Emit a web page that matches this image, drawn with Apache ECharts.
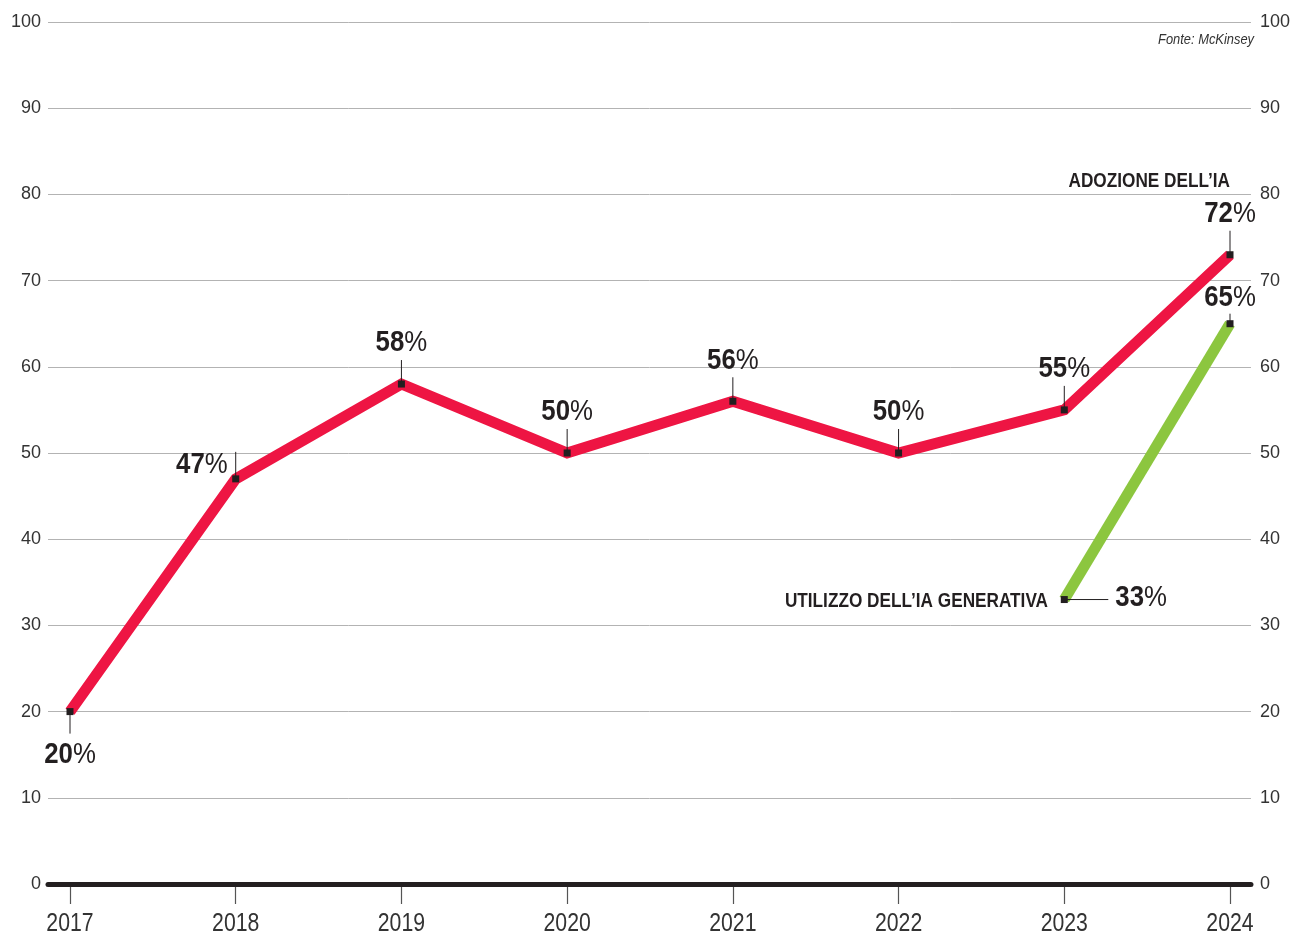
<!DOCTYPE html>
<html><head><meta charset="utf-8">
<script src="https://cdn.jsdelivr.net/npm/echarts@6/dist/echarts.min.js"></script>
<style>html,body{margin:0;padding:0;background:#fff}#c{width:1293px;height:939px}</style>
</head><body><div id="c"></div>
<script>
const years = ['2017','2018','2019','2020','2021','2022','2023','2024'];
const adoption = [20, 47, 58, 50, 56, 50, 55, 73];
const adoptionLabels = ['20','47','58','50','56','50','55','72'];
const adoptionLabelPos = ['down','upleft','up','up','up','up','up','up'];
const genAI = [null, null, null, null, null, null, 33, 65];
const genAILabels = [null, null, null, null, null, null, '33', '65'];
const genAILabelPos = [null, null, null, null, null, null, 'right', 'upshort'];
const yMin = 0, yMax = 100, yStep = 10;

const RED = '#ee1543', GREEN = '#8cc63f', INK = '#231f20';
const SANS = '"Liberation Sans", Arial, Helvetica, sans-serif';
const SQ = 0.86; // horizontal squeeze to imitate a condensed face

const labelItems = [];
adoption.forEach((v,i)=>labelItems.push({value:[i,v], text:adoptionLabels[i], pos:adoptionLabelPos[i]}));
genAI.forEach((v,i)=>{ if(v!=null) labelItems.push({value:[i,v], text:genAILabels[i], pos:genAILabelPos[i]}); });

const chart = echarts.init(document.getElementById('c'));
const richStyle = {
  n:{fontFamily:SANS, fontWeight:'bold', fontSize:30, fill:INK, color:INK},
  p:{fontFamily:SANS, fontWeight:'normal', fontSize:30, fill:INK, color:INK}
};
chart.setOption({
  animation:false,
  grid:[
    {left:48, right:40, top:22, bottom:55},
    {left:70, right:63, top:22, bottom:55}
  ],
  xAxis:[
    {gridIndex:0, type:'value', min:0, max:1, axisLine:{show:true, lineStyle:{color:INK, width:5}}, axisTick:{show:false}, axisLabel:{show:false}, splitLine:{show:false}, z:5},
    {gridIndex:1, type:'category', data:years, boundaryGap:false, axisLine:{show:false},
     axisTick:{show:true, length:20, lineStyle:{color:'#555', width:1.2}, alignWithLabel:true},
     axisLabel:{show:false}}
  ],
  yAxis:[
    {gridIndex:0, type:'value', min:yMin, max:yMax, interval:yStep, position:'left', axisLine:{show:false}, axisTick:{show:false},
     axisLabel:{margin:7, fontFamily:SANS, fontSize:18, color:'#333'}, splitLine:{show:true, lineStyle:{color:'#b3b3b3', width:1}}},
    {gridIndex:0, type:'value', min:yMin, max:yMax, interval:yStep, position:'right', axisLine:{show:false}, axisTick:{show:false},
     axisLabel:{margin:9, fontFamily:SANS, fontSize:18, color:'#333'}, splitLine:{show:false}},
    {gridIndex:1, type:'value', min:yMin, max:yMax, interval:yStep, show:false}
  ],
  series:[
    {type:'line', xAxisIndex:1, yAxisIndex:2, data:adoption, symbol:'rect', symbolSize:7, showSymbol:true,
     itemStyle:{color:INK}, lineStyle:{color:RED, width:11, join:'miter', cap:'butt'}, z:3},
    {type:'line', xAxisIndex:1, yAxisIndex:2, data:genAI, symbol:'rect', symbolSize:7, showSymbol:true,
     itemStyle:{color:INK}, lineStyle:{color:GREEN, width:11, join:'miter', cap:'butt'}, z:2},
    {type:'custom', xAxisIndex:1, yAxisIndex:2, coordinateSystem:'cartesian2d', z:4, silent:true,
     data:labelItems.map(d=>d.value),
     renderItem:function(params, api){
       const it = labelItems[params.dataIndex];
       const p = api.coord([api.value(0), api.value(1)]);
       const x = p[0], y = p[1];
       let line, tx, ty, align='center';
       if(it.pos==='up'){ line=[x,y,x,y-24]; tx=x; ty=y-41; }
       else if(it.pos==='down'){ line=[x,y,x,y+22]; tx=x; ty=y+43; }
       else if(it.pos==='upleft'){ line=[x,y,x,y-27]; tx=x-8; ty=y-14; align='right'; }
       else if(it.pos==='upshort'){ line=[x,y,x,y-10]; tx=x; ty=y-26; }
       else { line=[x,y,x+44,y]; tx=x+51; ty=y-2; align='left'; }
       return {type:'group', children:[
         {type:'line', shape:{x1:line[0],y1:line[1],x2:line[2],y2:line[3]}, style:{stroke:INK, lineWidth:1}},
         {type:'text', x:tx, y:ty, scaleX:SQ, style:{text:'{n|'+it.text+'}{p|%}', rich:richStyle, align:align, verticalAlign:'middle'}}
       ]};
     }},
    {type:'custom', xAxisIndex:1, yAxisIndex:2, coordinateSystem:'cartesian2d', z:4, silent:true,
     data:years.map((y,i)=>[i, yMin]),
     renderItem:function(params, api){
       const p = api.coord([api.value(0), api.value(1)]);
       return {type:'text', x:p[0], y:p[1]+40, scaleX:0.85,
         style:{text:years[params.dataIndex], fontFamily:SANS, fontSize:25, fill:'#333', align:'center', verticalAlign:'middle'}};
     }}
  ],
  graphic:[
    {type:'text', x:1254, y:40, scaleX:0.92, style:{text:'Fonte: McKinsey', fontFamily:SANS, fontStyle:'italic', fontSize:14, fill:'#333', align:'right', verticalAlign:'middle'}},
    {type:'text', x:1230, y:181, scaleX:0.86, style:{text:'ADOZIONE DELL’IA', fontFamily:SANS, fontWeight:'bold', fontSize:20, fill:INK, align:'right', verticalAlign:'middle'}},
    {type:'text', x:1048, y:601, scaleX:0.86, style:{text:'UTILIZZO DELL’IA GENERATIVA', fontFamily:SANS, fontWeight:'bold', fontSize:20, fill:INK, align:'right', verticalAlign:'middle'}}
  ]
});
</script></body></html>
